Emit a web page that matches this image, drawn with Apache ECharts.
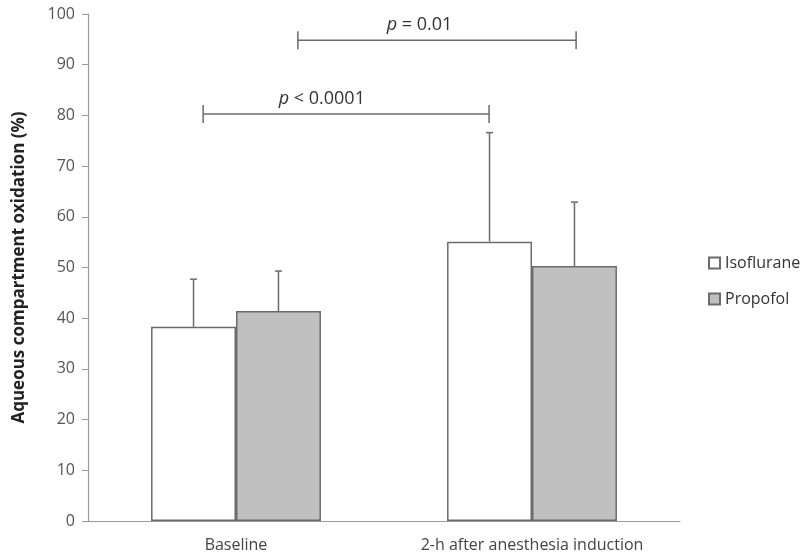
<!DOCTYPE html>
<html>
<head>
<meta charset="utf-8">
<script src="https://cdn.jsdelivr.net/npm/echarts@6/dist/echarts.min.js"></script>
<style>
  html, body { margin: 0; padding: 0; background: #fff; }
  #chart { width: 800px; height: 554px; }
</style>
</head>
<body>
<div id="chart"></div>
<script>
var categories = ["Baseline", "2-h after anesthesia induction"];
var isofluraneMean = [38.3, 55.1];
var isofluraneUpper = [47.7, 76.6];
var propofolMean = [41.4, 50.3];
var propofolUpper = [49.3, 62.9];
var yTicks = [0, 10, 20, 30, 40, 50, 60, 70, 80, 90, 100];

// brackets: [start, end, level, label centre] in category units (0..2)
var brackets = [
  [0.389, 1.355, 80.3, 0.79, "< 0.0001"],
  [0.709, 1.649, 94.8, 1.12, "= 0.01"]
];

var lineColor = "#6b6b6b";
var categoryGap = 0.426;

function errorBars(means, uppers, side) {
  var data = means.map(function (m, i) { return [i, m, uppers[i]]; });
  return {
    type: "custom",
    xAxisIndex: 0,
    yAxisIndex: 0,
    data: data,
    z: 5,
    renderItem: function (params, api) {
      var band = api.size([1, 0])[0];
      var barW = band * (1 - categoryGap) / 2;
      var base = api.coord([api.value(0), api.value(1)]);
      var top = api.coord([api.value(0), api.value(2)]);
      var x = base[0] + side * barW / 2;
      var style = { stroke: lineColor, lineWidth: 1.5 };
      return {
        type: "group",
        children: [
          { type: "line", shape: { x1: x, y1: base[1], x2: x, y2: top[1] }, style: style },
          { type: "line", shape: { x1: x - 3.5, y1: top[1], x2: x + 3.5, y2: top[1] }, style: style }
        ]
      };
    }
  };
}

var chart = echarts.init(document.getElementById("chart"));

chart.setOption({
  backgroundColor: "#fff",
  animation: false,
  textStyle: { fontFamily: "Open Sans" },
  grid: { left: 88, right: 120, top: 14, bottom: 33, containLabel: false },
  legend: {
    orient: "vertical",
    left: 703,
    top: 250,
    itemWidth: 11,
    itemHeight: 11,
    itemGap: 20,
    icon: "rect",
    data: ["Isoflurane", "Propofol"],
    textStyle: { fontSize: 16, color: "#333", fontFamily: "Open Sans" }
  },
  xAxis: [
    {
      type: "category",
      data: categories,
      axisLine: { lineStyle: { color: "#9a9a9a", width: 1.2 } },
      axisTick: { length: 6, lineStyle: { color: "#9a9a9a" } },
      axisLabel: { fontSize: 16, color: "#444", margin: 16 }
    },
    { type: "value", min: 0, max: 2, show: false }
  ],
  yAxis: {
    type: "value",
    min: 0,
    max: 100,
    interval: 10,
    name: "Aqueous compartment oxidation (%)",
    nameLocation: "middle",
    nameGap: 60,
    nameTextStyle: { fontSize: 17, fontWeight: "bold", color: "#222" },
    axisLine: { show: true, lineStyle: { color: "#9a9a9a", width: 1.2 } },
    axisTick: { show: true, length: 6, lineStyle: { color: "#9a9a9a" } },
    splitLine: { show: false },
    axisLabel: {
      fontSize: 16,
      color: "#555",
      margin: 13,
      formatter: function (v) { return yTicks.indexOf(v) >= 0 ? String(v) : ""; }
    }
  },
  series: [
    {
      name: "Isoflurane",
      type: "bar",
      data: isofluraneMean,
      barGap: "0%",
      barCategoryGap: (categoryGap * 100) + "%",
      itemStyle: { color: "#ffffff", borderColor: lineColor, borderWidth: 1.5 }
    },
    {
      name: "Propofol",
      type: "bar",
      data: propofolMean,
      itemStyle: { color: "#c0c0c0", borderColor: lineColor, borderWidth: 1.5 }
    },
    errorBars(isofluraneMean, isofluraneUpper, -1),
    errorBars(propofolMean, propofolUpper, 1),
    {
      type: "custom",
      xAxisIndex: 1,
      yAxisIndex: 0,
      data: brackets,
      z: 6,
      renderItem: function (params, api) {
        var a = api.coord([api.value(0), api.value(2)]);
        var b = api.coord([api.value(1), api.value(2)]);
        var c = api.coord([api.value(3), api.value(2)]);
        var style = { stroke: lineColor, lineWidth: 1.5 };
        return {
          type: "group",
          children: [
            { type: "line", shape: { x1: a[0], y1: a[1], x2: b[0], y2: b[1] }, style: style },
            { type: "line", shape: { x1: a[0], y1: a[1] - 9, x2: a[0], y2: a[1] + 9 }, style: style },
            { type: "line", shape: { x1: b[0], y1: b[1] - 9, x2: b[0], y2: b[1] + 9 }, style: style },
            {
              type: "text",
              x: c[0],
              y: c[1] - 6,
              style: {
                text: "{i|p} " + brackets[params.dataIndex][4],
                align: "center",
                verticalAlign: "bottom",
                fill: "#333",
                font: "18px 'Open Sans'",
                rich: {
                  i: { fontStyle: "italic", fontSize: 18, fill: "#333", fontFamily: "Open Sans" }
                }
              }
            }
          ]
        };
      }
    }
  ]
});
</script>
</body>
</html>
